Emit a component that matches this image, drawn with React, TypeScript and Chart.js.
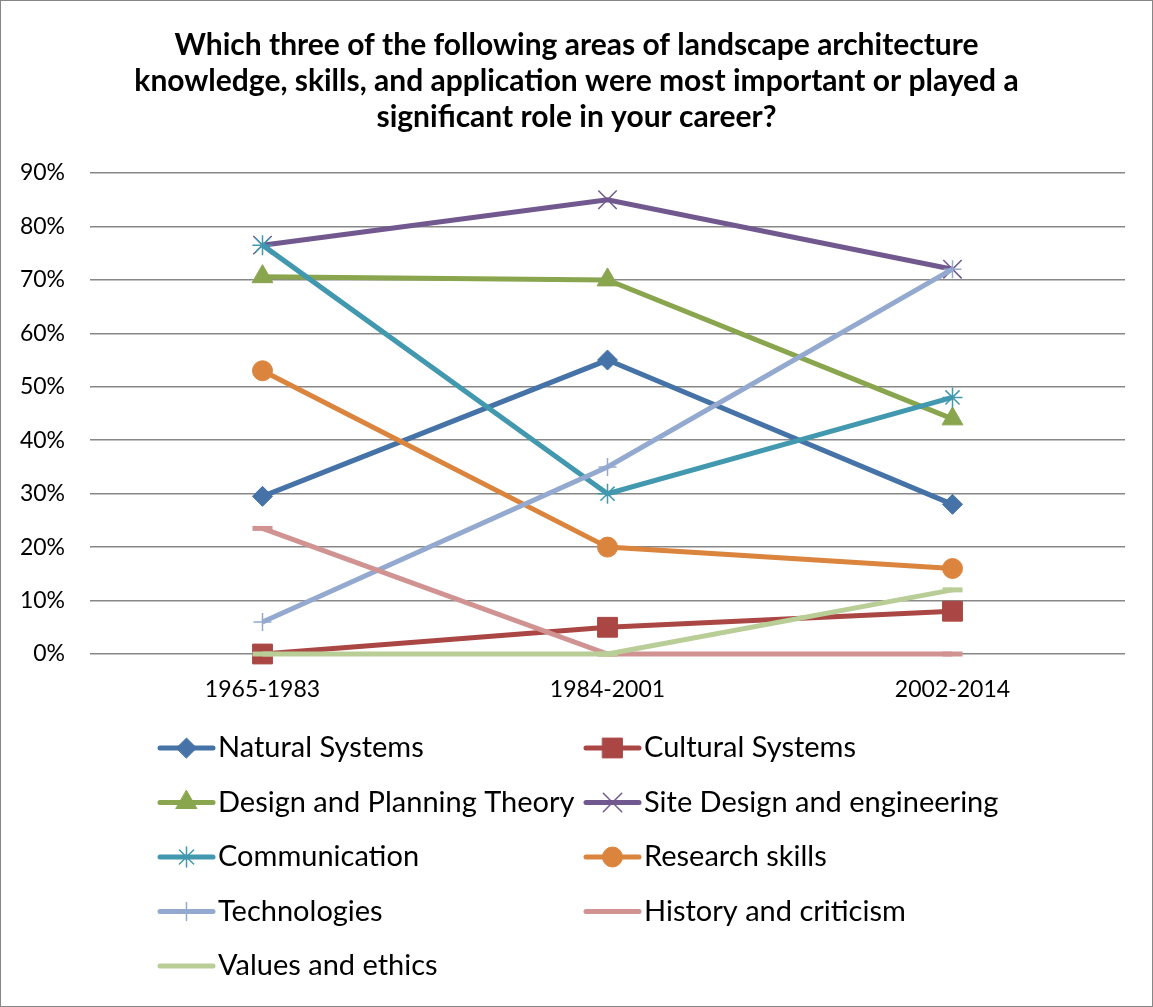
import React, { useEffect, useRef } from 'react';
import { Chart, registerables } from 'chart.js';
import { drawPoint } from 'chart.js/helpers';

Chart.register(...registerables);

const titleLines = [
  'Which three of the following areas of landscape architecture',
  'knowledge, skills, and application were most important or played a',
  'significant role in your career?',
];
const categories = ['1965-1983', '1984-2001', '2002-2014'];
const seriesNames = [
  'Natural Systems',
  'Cultural Systems',
  'Design and Planning Theory',
  'Site Design and engineering',
  'Communication',
  'Research skills',
  'Technologies',
  'History and criticism',
  'Values and ethics',
];
const naturalSystems = [29.5, 55, 28];
const culturalSystems = [0, 5, 8];
const designPlanning = [70.6, 70, 44];
const siteDesign = [76.5, 85, 72];
const communication = [76.5, 30, 48];
const researchSkills = [53, 20, 16];
const technologies = [6, 35, 72];
const historyCriticism = [23.5, 0, 0];
const valuesEthics = [0, 0, 12];
const yTickValues = [0, 10, 20, 30, 40, 50, 60, 70, 80, 90];

const seriesValues = [
  naturalSystems,
  culturalSystems,
  designPlanning,
  siteDesign,
  communication,
  researchSkills,
  technologies,
  historyCriticism,
  valuesEthics,
];
const seriesColors = ['#4572A7', '#AA4643', '#89A54E', '#71588F', '#4198AF', '#DB843D', '#93A9CF', '#D19392', '#B9CD96'];
const seriesMarkers = ['rectRot', 'rect', 'triangle', 'crossRot', 'star', 'circle', 'cross', 'line', 'line'];
const markerRadius = [10, 14, 12, 13, 10, 10, 9, 10, 10];
const markerBorder = [1, 1, 1, 1.5, 1.5, 1, 1.5, 5, 5];

const FONT = 'Lato, "Open Sans", sans-serif';

const legendPlugin = {
  id: 'twoColLegend',
  afterDraw(chart: any) {
    const ctx = chart.ctx;
    const colX = [158, 584];
    const rowY0 = 748;
    const rowGap = 54.5;
    const lineLen = 57;
    ctx.save();
    chart.data.datasets.forEach((ds: any, i: number) => {
      const col = i % 2;
      const row = Math.floor(i / 2);
      const x0 = colX[col];
      const y = rowY0 + row * rowGap;
      ctx.strokeStyle = ds.borderColor;
      ctx.lineWidth = 5;
      ctx.lineCap = 'round';
      ctx.beginPath();
      ctx.moveTo(x0 + 2, y);
      ctx.lineTo(x0 + lineLen - 2, y);
      ctx.stroke();
      if (ds.pointStyle !== 'line') {
        ctx.fillStyle = ds.pointBackgroundColor;
        ctx.strokeStyle = ds.pointBorderColor;
        ctx.lineWidth = ds.pointBorderWidth;
        drawPoint(ctx, { pointStyle: ds.pointStyle, rotation: 0, radius: ds.pointRadius, borderWidth: ds.pointBorderWidth }, x0 + lineLen / 2, y);
      }
      ctx.fillStyle = '#000';
      ctx.font = '29px ' + FONT;
      ctx.textAlign = 'left';
      ctx.textBaseline = 'middle';
      ctx.fillText(ds.label, x0 + lineLen + 3, y);
    });
    ctx.restore();
  },
};

export default function App() {
  const ref = useRef<HTMLCanvasElement>(null);
  useEffect(() => {
    document.body.style.margin = '0';
    const n = seriesNames.length;
    const chart = new Chart(ref.current!, {
      type: 'line',
      data: {
        labels: categories,
        datasets: seriesNames.map((name, i) => ({
          label: name,
          data: seriesValues[i],
          borderColor: seriesColors[i],
          backgroundColor: seriesColors[i],
          borderWidth: 5,
          pointStyle: seriesMarkers[i] as any,
          pointRadius: markerRadius[i],
          pointHoverRadius: markerRadius[i],
          pointBackgroundColor: seriesColors[i],
          pointBorderColor: seriesColors[i],
          pointBorderWidth: markerBorder[i],
          tension: 0,
          fill: false,
          clip: false as any,
          order: n - i,
          yAxisID: 'y',
        })),
      },
      options: {
        responsive: false,
        animation: false,
        devicePixelRatio: 1,
        layout: { padding: { left: 0, right: 0, top: 0, bottom: 300 } },
        plugins: {
          legend: { display: false },
          tooltip: { enabled: false },
          title: {
            display: true,
            text: titleLines,
            color: '#000',
            font: { family: FONT, size: 30, weight: 'bold', lineHeight: '36px' as any },
            padding: { top: 27, bottom: 38 },
          },
        },
        scales: {
          x: {
            type: 'category',
            offset: true,
            grid: { display: false, drawTicks: false },
            border: { display: false },
            ticks: { color: '#000', font: { family: FONT, size: 23 }, padding: 22, maxRotation: 0 },
            afterFit: (s: any) => { s.height = 1007 - 654 - 300; },
          },
          y: {
            min: 0,
            max: 90,
            afterBuildTicks: (s: any) => { s.ticks = yTickValues.map((v) => ({ value: v })); },
            grid: { color: '#878787', lineWidth: 1.5, drawTicks: false },
            border: { display: false },
            ticks: {
              color: '#000',
              font: { family: FONT, size: 23 },
              padding: 25,
              callback: (v: any) => v + '%',
            },
            afterFit: (s: any) => { s.width = 90; },
          },
          ySpacer: {
            position: 'right',
            min: 0,
            max: 90,
            grid: { display: false, drawTicks: false },
            border: { display: false },
            ticks: { display: false },
            afterFit: (s: any) => { s.width = 28; },
          },
        },
      },
      plugins: [legendPlugin],
    });
    return () => chart.destroy();
  }, []);
  return (
    <div style={{ position: 'relative', width: 1153, height: 1007, background: '#fff' }}>
      <canvas ref={ref} width={1153} height={1007} style={{ position: 'absolute', left: 0, top: 0 }} />
      <div
        style={{
          position: 'absolute',
          left: 0,
          top: 0,
          width: 1153,
          height: 1007,
          boxSizing: 'border-box',
          border: '1px solid #868686',
          pointerEvents: 'none',
        }}
      />
    </div>
  );
}
